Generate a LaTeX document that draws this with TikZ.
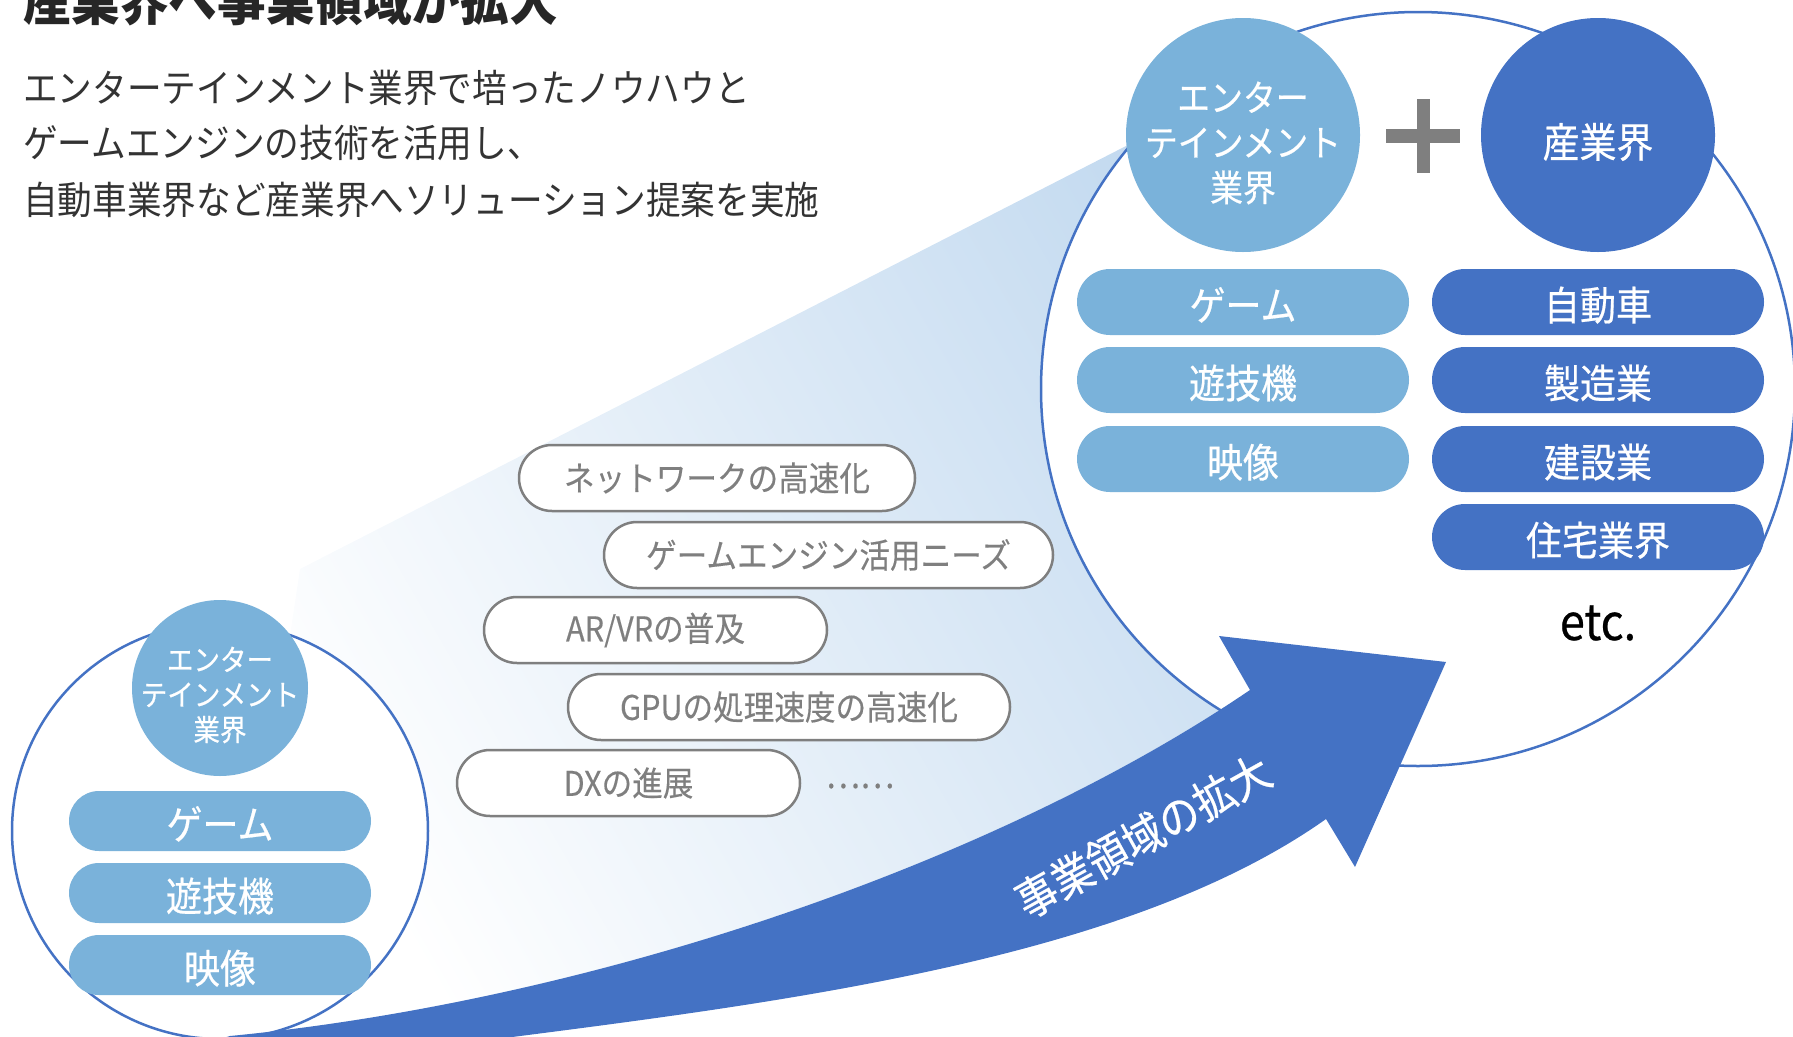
\documentclass[tikz,border=0pt]{standalone}
\usepackage{fontspec}
\setmainfont{Noto Sans CJK JP}[FakeStretch=0.9]
\newfontfamily\medfont{Noto Sans CJK JP}[FakeBold=0.5,FakeStretch=0.9]
\newfontfamily\grfont{Noto Sans CJK JP}[FakeBold=0.25,FakeStretch=0.9]
\usetikzlibrary{shapes.misc}
\definecolor{lblue}{HTML}{7AB2DA}
\definecolor{dblue}{HTML}{4472C4}
\definecolor{gtext}{HTML}{7F7F7F}
\definecolor{gradblue}{HTML}{C0D8EF}
\definecolor{btext}{HTML}{333333}
\definecolor{ttext}{HTML}{262626}
\newcommand{\fsz}[1]{\fontsize{#1}{#1}\selectfont}
\begin{document}
\begin{tikzpicture}[x=1pt,y=-1pt,
  pillbase/.style={rounded rectangle, inner sep=0pt, minimum height=66pt, text height=36.6pt, text depth=0pt},
  lpill/.style={pillbase, fill=lblue, minimum width=332pt, text=white, font=\medfont\fsz{40}},
  dpill/.style={pillbase, fill=dblue, minimum width=332pt, text=white, font=\medfont\fsz{40}},
  spill/.style={pillbase, fill=lblue, minimum width=302pt, minimum height=60pt, text=white, font=\medfont\fsz{40}},
  gpill/.style={rounded rectangle, inner sep=0pt, minimum height=66pt, draw=gtext, line width=2.5pt, fill=white, text=gtext, font=\grfont\fsz{34}},
  outline/.style={circle, draw=dblue, line width=2.5pt, fill=white, inner sep=0pt},
  bodyline/.style={anchor=west, inner sep=0pt, text=btext, font=\fsz{38.5}}
]
\useasboundingbox (0,0) rectangle (1793,1036);
\clip (0,0) rectangle (1793,1036);

% gradient wedge
\shade[top color=gradblue, bottom color=white, shading angle=-60]
  (300,569) -- (1126,146) -- (1420,200) -- (1300,600) -- (1250,690)
  .. controls (1000,860) and (600,1000) .. (230,1036) -- cycle;

% heading texts
\node[anchor=west, inner sep=0pt, text=ttext, font=\bfseries\fsz{54}] (title) at (23,0) {産業界へ事業領域が拡大};
\node[bodyline] (l1) at (23,88) {エンターテインメント業界で培ったノウハウと};
\node[bodyline] (l2) at (23,143) {ゲームエンジンの技術を活用し、};
\node[bodyline] (l3) at (23,200) {自動車業界など産業界へソリューション提案を実施};

% small circle
\node[outline, minimum size=416pt] (smallc) at (220,831) {};
\node[circle, fill=lblue, minimum size=176pt, inner sep=0pt] (sent) at (220,688) {};
\node[text=white, align=center, inner sep=0pt, font=\medfont\fontsize{29.5}{35}\selectfont] (senttext) at (220,695) {エンター\\テインメント\\業界};
\node[spill] (s1) at (220,821) {ゲーム};
\node[spill] (s2) at (220,893) {遊技機};
\node[spill] (s3) at (220,965) {映像};

% big circle
\node[outline, minimum size=754pt] (bigc) at (1418,389) {};
\node[circle, fill=lblue, minimum size=234pt, inner sep=0pt] (bent) at (1243,135) {};
\node[text=white, align=center, inner sep=0pt, font=\medfont\fontsize{36.5}{45}\selectfont] (benttext) at (1243,143) {エンター\\テインメント\\業界};
\node[circle, fill=dblue, minimum size=234pt, inner sep=0pt] (bind) at (1598,135) {};
\node[text=white, inner sep=0pt, font=\medfont\fsz{41}] (bindtext) at (1598,142) {産業界};
\fill[gtext] (1386,129) rectangle (1460,143);
\fill[gtext] (1417,99) rectangle (1430,173);

\node[lpill] (b1) at (1243,302) {ゲーム};
\node[lpill] (b2) at (1243,380) {遊技機};
\node[lpill] (b3) at (1243,459) {映像};
\node[dpill] (d1) at (1598,302) {自動車};
\node[dpill] (d2) at (1598,380) {製造業};
\node[dpill] (d3) at (1598,459) {建設業};
\node[dpill] (d4) at (1598,537) {住宅業界};
\node[inner sep=0pt, font=\medfont\fsz{50}, text=black] (etc) at (1598,623) {etc.};

% trend pills
\node[gpill, minimum width=396pt] (g1) at (717,478) {ネットワークの高速化};
\node[gpill, minimum width=449pt] (g2) at (828.5,555) {ゲームエンジン活用ニーズ};
\node[gpill, minimum width=343pt] (g3) at (655.5,630) {AR/VRの普及};
\node[gpill, minimum width=442pt] (g4) at (789,707) {GPUの処理速度の高速化};
\node[gpill, minimum width=343pt] (g5) at (628.5,783) {DXの進展};
\node[inner sep=0pt, text=gtext, font=\grfont\fsz{36}] (dots) at (860,786) {……};

% arrow
\fill[dblue] (230,1036) .. controls (600,1000) and (1000,860) .. (1250,690)
  -- (1219,636) -- (1446,662) -- (1355,867) -- (1326,819)
  .. controls (1120,965) and (760,1005) .. (450,1045) -- (200,1045) -- cycle;
\node[rotate=29, inner sep=0pt, text=white, font=\medfont\fsz{45}] (arrtext) at (1143,836) {事業領域の拡大};
\end{tikzpicture}
\end{document}
